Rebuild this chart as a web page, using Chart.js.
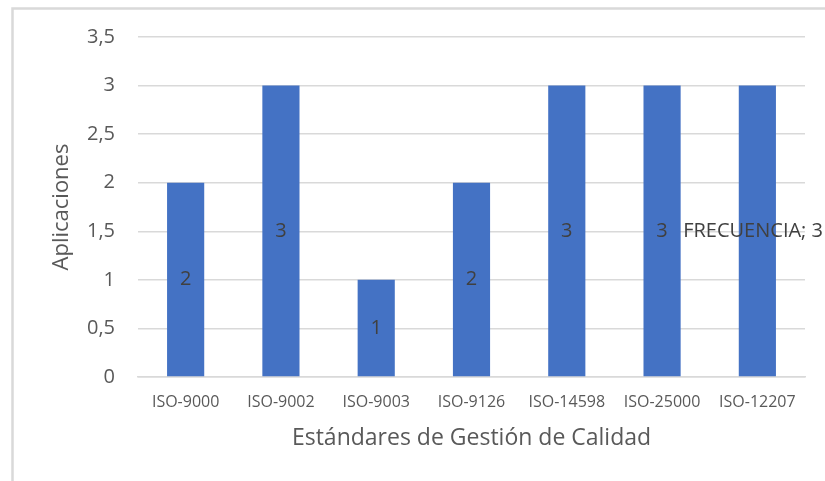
<!DOCTYPE html>
<html>
<head>
<meta charset="utf-8">
<script src="https://cdn.jsdelivr.net/npm/chart.js@4/dist/chart.umd.min.js"></script>
<style>
  html, body { margin: 0; padding: 0; background: #fff; }
  #wrap { position: relative; width: 825px; height: 481px; }
</style>
</head>
<body>
<div id="wrap"><canvas id="chart" width="825" height="481"></canvas></div>
<script>
// Quality-management standards and how many applications use each one
const categories = ['ISO-9000', 'ISO-9002', 'ISO-9003', 'ISO-9126', 'ISO-14598', 'ISO-25000', 'ISO-12207'];
const frecuencia = [2, 3, 1, 2, 3, 3, 3];
const seriesName = 'FRECUENCIA';
const yTicks = [0, 0.5, 1, 1.5, 2, 2.5, 3, 3.5];

const FONT = "'Open Sans', 'Liberation Sans', sans-serif";
const GREY = '#595959';

// Frame lines along the top and left edges of the chart object
const framePlugin = {
  id: 'frame',
  beforeDraw(chart) {
    const ctx = chart.ctx;
    ctx.save();
    ctx.strokeStyle = '#d9d9d9';
    ctx.lineWidth = 2.5;
    ctx.beginPath();
    ctx.moveTo(12.5, chart.height);
    ctx.lineTo(12.5, 8.5);
    ctx.lineTo(chart.width, 8.5);
    ctx.stroke();
    ctx.restore();
  }
};

// Value labels centred inside each bar; the last one also carries the series name
const labelPlugin = {
  id: 'barLabels',
  afterDatasetsDraw(chart) {
    const ctx = chart.ctx;
    const meta = chart.getDatasetMeta(0);
    const data = chart.data.datasets[0].data;
    ctx.save();
    ctx.font = '20px ' + FONT;
    ctx.fillStyle = '#404040';
    ctx.textAlign = 'center';
    ctx.textBaseline = 'middle';
    meta.data.forEach((bar, i) => {
      const last = i === data.length - 1;
      const text = last ? seriesName + '; ' + data[i] : String(data[i]);
      const w = ctx.measureText(text).width;
      let x = bar.x;
      if (x + w / 2 > chart.width - 2) x = chart.width - 2 - w / 2;
      const y = (bar.y + bar.base) / 2;
      ctx.fillText(text, x, y);
    });
    ctx.restore();
  }
};

new Chart(document.getElementById('chart'), {
  type: 'bar',
  data: {
    labels: categories,
    datasets: [{
      label: seriesName,
      data: frecuencia,
      backgroundColor: '#4472c4',
      borderWidth: 0,
      categoryPercentage: 1,
      barPercentage: 0.39
    }]
  },
  options: {
    responsive: false,
    animation: false,
    layout: { padding: { left: 49, top: 37, right: 20, bottom: 29 } },
    plugins: {
      legend: { display: false },
      tooltip: { enabled: false }
    },
    scales: {
      x: {
        grid: { display: false, drawTicks: false },
        border: { display: true, color: '#d9d9d9', width: 1.5 },
        ticks: { color: GREY, font: { family: FONT, size: 16 }, padding: 16, maxRotation: 0, autoSkip: false },
        title: { display: true, text: 'Estándares de Gestión de Calidad', color: GREY, font: { family: FONT, size: 23 }, padding: { top: 0, bottom: 0 } },
        afterFit(s) { s.height = 75; }
      },
      y: {
        min: 0,
        max: 3.5,
        afterBuildTicks(s) { s.ticks = yTicks.map(v => ({ value: v })); },
        grid: { color: '#d9d9d9', lineWidth: 1.5, drawTicks: false },
        border: { display: false },
        ticks: {
          color: GREY,
          font: { family: FONT, size: 20 },
          padding: 23,
          callback: v => String(v).replace('.', ',')
        },
        title: { display: true, text: 'Aplicaciones', color: GREY, font: { family: FONT, size: 22 }, padding: 0 },
        afterFit(s) { s.width = 89; }
      }
    }
  },
  plugins: [framePlugin, labelPlugin]
});
</script>
</body>
</html>
